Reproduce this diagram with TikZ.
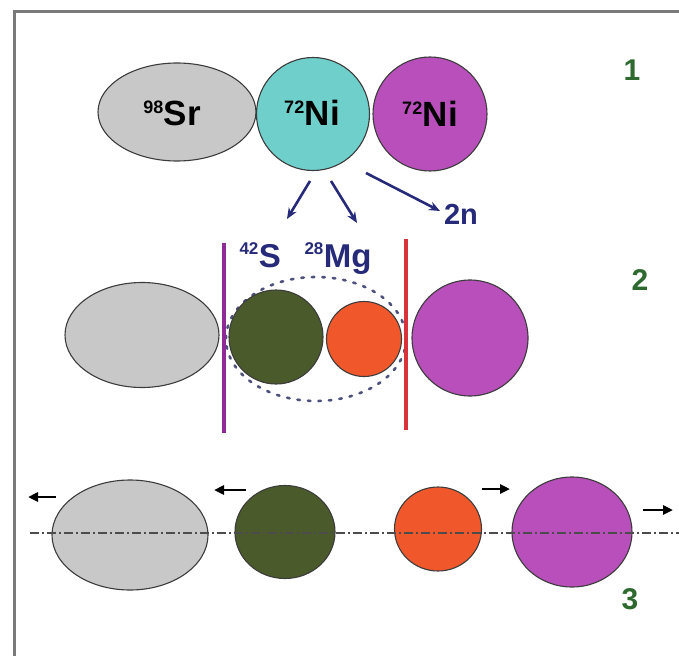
\documentclass[tikz,border=0pt]{standalone}
\usepackage{fontspec}
\setmainfont{Liberation Sans}
\usetikzlibrary{arrows.meta,shapes.geometric}

\definecolor{srgray}{HTML}{C8C8C8}
\definecolor{nicyan}{HTML}{6ECFCB}
\definecolor{nimag}{HTML}{B84FBA}
\definecolor{sgreen}{HTML}{4A5A2A}
\definecolor{mgorange}{HTML}{F0582C}
\definecolor{navy}{HTML}{262A78}
\definecolor{numgreen}{HTML}{2E6A30}
\definecolor{barpurple}{HTML}{8E2C96}
\definecolor{barred}{HTML}{D8323A}
\definecolor{framegray}{HTML}{7A7A7A}
\definecolor{edgegray}{HTML}{3C3C3C}

\tikzset{
  nucleus/.style={draw=edgegray, line width=1.1pt, inner sep=0pt},
  ball/.style={nucleus, circle},
  oval/.style={nucleus, ellipse},
  emitarrow/.style={navy, line width=2.6pt, -{Stealth[length=11pt,width=9pt]}},
  fliparrow/.style={black, line width=2.6pt, -{Triangle[length=10pt,width=9pt]}},
  stagenum/.style={text=numgreen, font=\bfseries\fontsize{30}{30}\selectfont},
  bar/.style={line width=4pt},
  axisline/.style={draw=black!70, line width=1.3pt, dash pattern=on 9pt off 3pt on 2pt off 3pt},
}

\begin{document}
\begin{tikzpicture}[x=1pt, y=-1pt]
\useasboundingbox (0,0) rectangle (679,655);
\fill[white] (0,0) rectangle (679,655);

% frame
\draw[framegray, line width=3pt] (14,660) -- (14,12) -- (684,12);

% ---------- stage 1: fission partners ----------
\node[oval, fill=srgray, minimum width=158pt, minimum height=98pt] (sr1) at (177,112) {};
\node[ball, fill=nicyan, minimum size=113pt] (ni1) at (313,114) {};
\node[ball, fill=nimag, minimum size=114pt] (nj1) at (430,114) {};

\node[font=\bfseries] (srlab) at (172,113)
  {{\fontsize{18}{18}\selectfont\raisebox{12pt}{98}}\kern0.5pt{\fontsize{35}{35}\selectfont Sr}};
\node[font=\bfseries] (nilab) at (312,113)
  {{\fontsize{18}{18}\selectfont\raisebox{12pt}{72}}\kern0.5pt{\fontsize{35}{35}\selectfont Ni}};
\node[font=\bfseries] (njlab) at (430,114)
  {{\fontsize{18}{18}\selectfont\raisebox{12pt}{72}}\kern0.5pt{\fontsize{35}{35}\selectfont Ni}};

\node[stagenum] (n1) at (632,70) {1};

% ---------- breakup of the light fragment ----------
\node[text=navy, font=\bfseries, anchor=base west] (slab) at (236,267)
  {{\fontsize{17}{17}\selectfont\raisebox{13pt}{42}}\kern0.5pt{\fontsize{33}{33}\selectfont S}};
\node[text=navy, font=\bfseries, anchor=base west] (mglab) at (301,267)
  {{\fontsize{17}{17}\selectfont\raisebox{13pt}{28}}\kern0.5pt{\fontsize{33}{33}\selectfont Mg}};
\node[text=navy, font=\bfseries\fontsize{29}{29}\selectfont] (twon) at (461,214) {2n};

\coordinate (a1s) at (310,181);
\coordinate (a1e) at (287,219);
\coordinate (a2s) at (331,181);
\coordinate (a2e) at (357,223);
\coordinate (a3s) at (366,173);
\coordinate (a3e) at (440,211);
\draw[emitarrow] (a1s) -- (a1e);
\draw[emitarrow] (a2s) -- (a2e);
\draw[emitarrow] (a3s) -- (a3e);

% ---------- stage 2: ternary configuration ----------
\draw[navy!55!gray, line width=2.6pt, dash pattern=on 2.5pt off 8pt, line cap=round]
  (316,339) ellipse [x radius=90, y radius=62];

\node[oval, fill=srgray, minimum width=154pt, minimum height=105pt] (sr2) at (142,335) {};
\node[ball, fill=sgreen, minimum size=94pt] (s2) at (276,337) {};
\node[ball, fill=mgorange, minimum size=75pt] (mg2) at (364,339) {};
\node[ball, fill=nimag, minimum size=116pt] (nj2) at (470,338) {};

\coordinate (pbtop) at (224,243);
\coordinate (pbbot) at (224,433);
\coordinate (rbtop) at (406,239);
\coordinate (rbbot) at (406,430);
\draw[bar, barpurple] (pbtop) -- (pbbot);
\draw[bar, barred] (rbtop) -- (rbbot);

\node[stagenum] (n2) at (640,280) {2};

% ---------- stage 3: separated fragments ----------
\node[oval, fill=srgray, minimum width=156pt, minimum height=110pt] (sr3) at (130,535) {};
\node[oval, fill=sgreen, minimum width=100pt, minimum height=93pt] (s3) at (285,532) {};
\node[oval, fill=mgorange, minimum width=87pt, minimum height=84pt] (mg3) at (438,529) {};
\node[oval, fill=nimag, minimum width=120pt, minimum height=110pt] (nj3) at (572,532) {};

\coordinate (axl) at (30,533);
\coordinate (axr) at (679,533);
\draw[axisline] (axl) -- (axr);

\coordinate (f1s) at (56,497);
\coordinate (f1e) at (28,497);
\coordinate (f2s) at (246,490);
\coordinate (f2e) at (214,490);
\coordinate (f3s) at (482,489);
\coordinate (f3e) at (510,489);
\coordinate (f4s) at (643,510);
\coordinate (f4e) at (673,510);
\draw[fliparrow] (f1s) -- (f1e);
\draw[fliparrow] (f2s) -- (f2e);
\draw[fliparrow] (f3s) -- (f3e);
\draw[fliparrow] (f4s) -- (f4e);

\node[stagenum] (n3) at (630,599) {3};
\end{tikzpicture}
\end{document}
